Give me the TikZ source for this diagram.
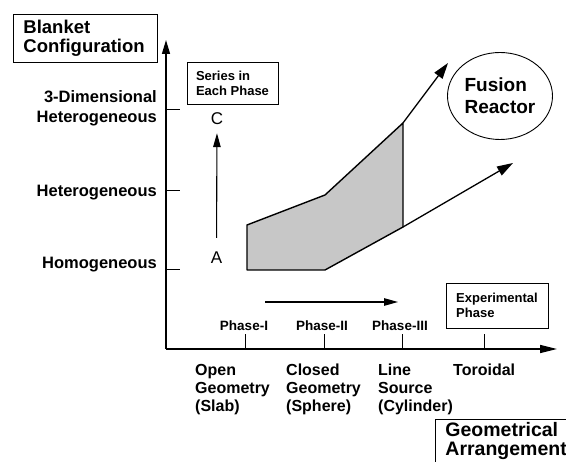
\documentclass[tikz,border=0pt]{standalone}
\usepackage{fontspec}
\setmainfont{Liberation Sans}
\usetikzlibrary{arrows.meta,shapes.geometric}
\begin{document}
\begin{tikzpicture}[x=1pt,y=-1pt,
  axlbl/.style={font=\bfseries\fontsize{16.5}{20}\selectfont, inner sep=0pt},
  geolbl/.style={font=\bfseries\fontsize{16}{18}\selectfont, inner sep=0pt, align=left, anchor=north west},
  phlbl/.style={font=\bfseries\fontsize{13.5}{15}\selectfont, inner sep=0pt, anchor=base},
  smallbox/.style={draw, line width=0.9pt, font=\bfseries\fontsize{13}{15}\selectfont, align=left, inner sep=0pt},
  letter/.style={font=\fontsize{17}{20}\selectfont, inner sep=0pt},
  axis/.style={line width=1.4pt},
  tick/.style={line width=1pt},
  bigarrow/.style={line width=1.3pt, -{Triangle[length=16pt,width=10pt]}},
  midarrow/.style={line width=1.1pt, -{Triangle[length=14pt,width=7.5pt]}},
  region/.style={line width=1.4pt, fill=black!22, line join=round}
]
\useasboundingbox (0,0) rectangle (566,462);

% axes
\coordinate (O) at (166,349);
\coordinate (Ytop) at (166,40);
\coordinate (Xend) at (557,349);
\draw[axis, -{Triangle[length=14pt,width=8pt]}] (O) -- (Ytop);
\draw[axis, -{Triangle[length=17pt,width=8pt]}] (O) -- (Xend);

% y ticks
\coordinate (y1) at (166,270); \coordinate (y1e) at (180,270);
\coordinate (y2) at (166,191); \coordinate (y2e) at (180,191);
\coordinate (y3) at (166,110); \coordinate (y3e) at (180,110);
\draw[tick] (y1) -- (y1e);
\draw[tick] (y2) -- (y2e);
\draw[tick] (y3) -- (y3e);

% x ticks
\coordinate (x1) at (245,349); \coordinate (x1e) at (245,334);
\coordinate (x2) at (324,349); \coordinate (x2e) at (324,334);
\coordinate (x3) at (402,349); \coordinate (x3e) at (402,334);
\coordinate (x4) at (484,349); \coordinate (x4e) at (484,334);
\draw[tick] (x1) -- (x1e);
\draw[tick] (x2) -- (x2e);
\draw[tick] (x3) -- (x3e);
\draw[tick] (x4) -- (x4e);

% y labels
\node[axlbl, align=right, anchor=north east] (l3d) at (157,90) {3-Dimensional\\Heterogeneous};
\node[axlbl, anchor=base east] (lhet) at (157,197) {Heterogeneous};
\node[axlbl, anchor=base east] (lhom) at (157,269) {Homogeneous};

% axis title boxes
\node[draw, line width=0.9pt, font=\bfseries\fontsize{18.5}{19}\selectfont, align=left,
      text width=124pt, minimum height=48pt, inner xsep=10pt, inner ysep=0pt, anchor=north west] (blanket) at (13,14) {Blanket\\Configuration};
\node[smallbox, minimum width=91pt, minimum height=42pt] (series) at (232.5,83) {Series in\\Each Phase};
\node[smallbox, minimum width=102pt, minimum height=45pt] (exper) at (497,305.5) {Experimental\\Phase};
\node[draw, line width=0.9pt, font=\bfseries\fontsize{19.5}{18.5}\selectfont, align=left,
      inner xsep=10pt, inner ysep=3pt, text depth=20pt, anchor=north west, minimum width=140pt] (geom) at (435,419) {Geometrical\\Arrangement};

% fusion reactor
\node[draw, ellipse, line width=0.9pt, minimum width=105pt, minimum height=87pt, inner sep=0pt,
      font=\bfseries\fontsize{19}{22}\selectfont, align=left] (fusion) at (500,96) {Fusion\\Reactor};

% A -> C
\node[letter] (C) at (217,119) {C};
\node[letter] (A) at (216.5,258) {A};
\draw[midarrow] (A.north) -- (C.south) [shorten <=14pt, shorten >=8pt];

% shaded region
\coordinate (p1) at (247,225);
\coordinate (p2) at (325,195);
\coordinate (p3) at (403,123);
\coordinate (p4) at (403,227);
\coordinate (p5) at (325,270);
\coordinate (p6) at (247,270);
\draw[region] (p1) -- (p2) -- (p3) -- (p4) -- (p5) -- (p6) -- cycle;

% diagonal arrows
\coordinate (t1) at (448,63);
\coordinate (t2) at (513,163);
\draw[bigarrow] (p3) -- (t1);
\draw[bigarrow] (p4) -- (t2);

% phase arrow
\coordinate (h1) at (265,302);
\coordinate (h2) at (398,302);
\draw[midarrow] (h1) -- (h2);

% phase labels
\node[phlbl] (ph1) at (244,331) {Phase-I};
\node[phlbl] (ph2) at (322,331) {Phase-II};
\node[phlbl] (ph3) at (400,331) {Phase-III};

% geometry labels
\node[geolbl] (g1) at (195,364) {Open\\Geometry\\(Slab)};
\node[geolbl] (g2) at (286,364) {Closed\\Geometry\\(Sphere)};
\node[geolbl] (g3) at (378,364) {Line\\Source\\(Cylinder)};
\node[geolbl] (g4) at (453,364) {Toroidal};
\end{tikzpicture}
\end{document}
